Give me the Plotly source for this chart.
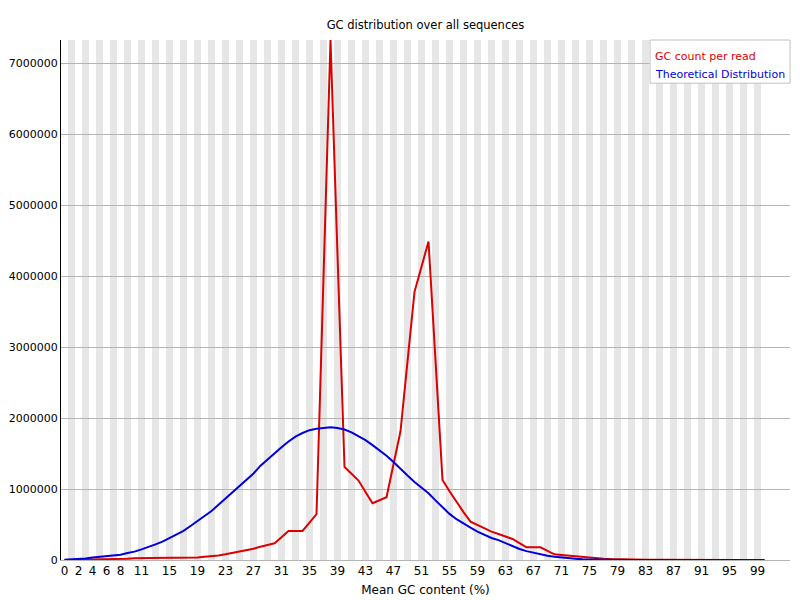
import plotly.graph_objects as go

# GC content bins 0..100 %
gc_percent = list(range(101))

gc_count_per_read = [
    0, 1000, 2000, 3000, 4000, 5000, 6000, 8000, 10000, 18000,
    25000, 28000, 30000, 30000, 30000, 30000, 30000, 30000, 31000, 36000,
    45000, 52000, 65000, 80000, 100000, 115000, 131000, 158000, 188000, 212000,
    235000, 320000, 410000, 410000, 410000, 527000, 645000, 3990000, 7330000, 4300000,
    1310000, 1215000, 1120000, 960000, 800000, 842000, 884000, 1350000, 1815000, 2800000,
    3780000, 4135000, 4490000, 2810000, 1128000, 970000, 815000, 675000, 540000, 490000,
    440000, 400000, 367000, 332000, 296000, 238000, 179000, 179000, 179000, 130000,
    80000, 70000, 61000, 50000, 38000, 31000, 24000, 19000, 14000, 10000,
    6000, 4000, 3000, 2000, 2000, 1000, 1000, 1000, 1000, 1000,
    500, 500, 500, 500, 500, 500, 0, 0, 0, 0,
    0,
]

theoretical = [
    5000, 10000, 12000, 20000, 35000, 45000, 48000, 60000, 75000, 100000,
    118000, 150000, 180000, 220000, 260000, 310000, 350000, 410000, 480000, 550000,
    620000, 690000, 780000, 870000, 960000, 1050000, 1130000, 1220000, 1330000, 1420000,
    1510000, 1590000, 1670000, 1740000, 1790000, 1830000, 1850000, 1860000, 1870000, 1860000,
    1840000, 1800000, 1750000, 1690000, 1620000, 1550000, 1470000, 1380000, 1280000, 1190000,
    1100000, 1020000, 940000, 840000, 740000, 650000, 575000, 510000, 455000, 400000,
    350000, 310000, 280000, 235000, 190000, 155000, 125000, 100000, 75000, 60000,
    47000, 35000, 24000, 16000, 10000, 7000, 4000, 3000, 2000, 1000,
    0, 0, 0, 0, 0, 0, 0, 0, 0, 0,
    0, 0, 0, 0, 0, 0, 0, 0, 0, 0,
    0,
]

x_tick_labels = [0, 2, 4, 6, 8, 11, 15, 19, 23, 27, 31, 35, 39, 43, 47, 51,
                 55, 59, 63, 67, 71, 75, 79, 83, 87, 91, 95, 99]
y_ticks = [0, 1000000, 2000000, 3000000, 4000000, 5000000, 6000000, 7000000]

y_max = max(gc_count_per_read)

RED = 'rgb(220,0,0)'
BLUE = 'rgb(0,0,220)'
FONT = 'DejaVu Sans'

# page body has an 8px default margin, so the figure is sized 792x592
W, H = 792, 592

fig = go.Figure()

fig.add_trace(
    go.Scatter(
        name='GC count per read',
        x=gc_percent,
        y=gc_count_per_read,
        mode='lines',
        line=dict(width=2, color=RED),
        showlegend=False
    )
)

fig.add_trace(
    go.Scatter(
        name='Theoretical Distribution',
        x=gc_percent,
        y=theoretical,
        mode='lines',
        line=dict(width=2, color=BLUE),
        showlegend=False
    )
)

# alternating grey background columns (odd bins)
shapes = []
for i in gc_percent:
    if i % 2 != 0:
        shapes.append(dict(
            type='rect', xref='x', yref='paper',
            x0=i - 0.5, x1=i + 0.5, y0=0, y1=1,
            fillcolor='rgb(230,230,230)', line=dict(width=0),
            layer='below'
        ))

# legend box
shapes.append(dict(
    type='rect', xref='paper', yref='paper',
    x0=0.808, x1=1.0, y0=0.917, y1=1.0,
    fillcolor='white', line=dict(width=1, color='rgb(192,192,192)'),
    layer='above'
))

fig.update_layout(
    width=W,
    height=H,
    margin=dict(l=53, r=10, t=32, b=40),
    paper_bgcolor='white',
    plot_bgcolor='white',
    font=dict(family=FONT, size=12, color='black'),
    title=dict(
        text='GC distribution over all sequences',
        x=417.5 / W, xanchor='center',
        y=1 - 17 / H, yanchor='middle',
        font=dict(family=FONT, size=11.5, color='black')
    ),
    shapes=shapes,
    annotations=[
        dict(text='GC count per read', xref='paper', yref='paper',
             x=0.812, y=0.969, xanchor='left', yanchor='middle',
             showarrow=False, font=dict(family=FONT, size=11, color=RED)),
        dict(text='Theoretical Distribution', xref='paper', yref='paper',
             x=0.812, y=0.9327, xanchor='left', yanchor='middle',
             showarrow=False, font=dict(family=FONT, size=11, color=BLUE)),
    ]
)

fig.update_xaxes(
    range=[-0.5, 103.64],
    automargin=False,
    tickmode='array',
    tickvals=x_tick_labels,
    ticktext=[str(v) for v in x_tick_labels],
    ticks='',
    showgrid=False,
    zeroline=False,
    showline=True,
    linecolor='rgb(180,180,180)',
    linewidth=1,
    title=dict(text='Mean GC content (%)', standoff=8,
               font=dict(family=FONT, size=12, color='black')),
    tickfont=dict(family=FONT, size=12, color='black')
)

fig.update_yaxes(
    range=[0, y_max],
    automargin=False,
    tickmode='array',
    tickvals=y_ticks,
    ticktext=[str(v) for v in y_ticks],
    ticks='',
    showgrid=True,
    gridcolor='rgb(180,180,180)',
    gridwidth=1,
    zeroline=False,
    showline=True,
    linecolor='black',
    linewidth=1,
    tickfont=dict(family=FONT, size=11, color='black')
)

fig.write_html("out.html")
